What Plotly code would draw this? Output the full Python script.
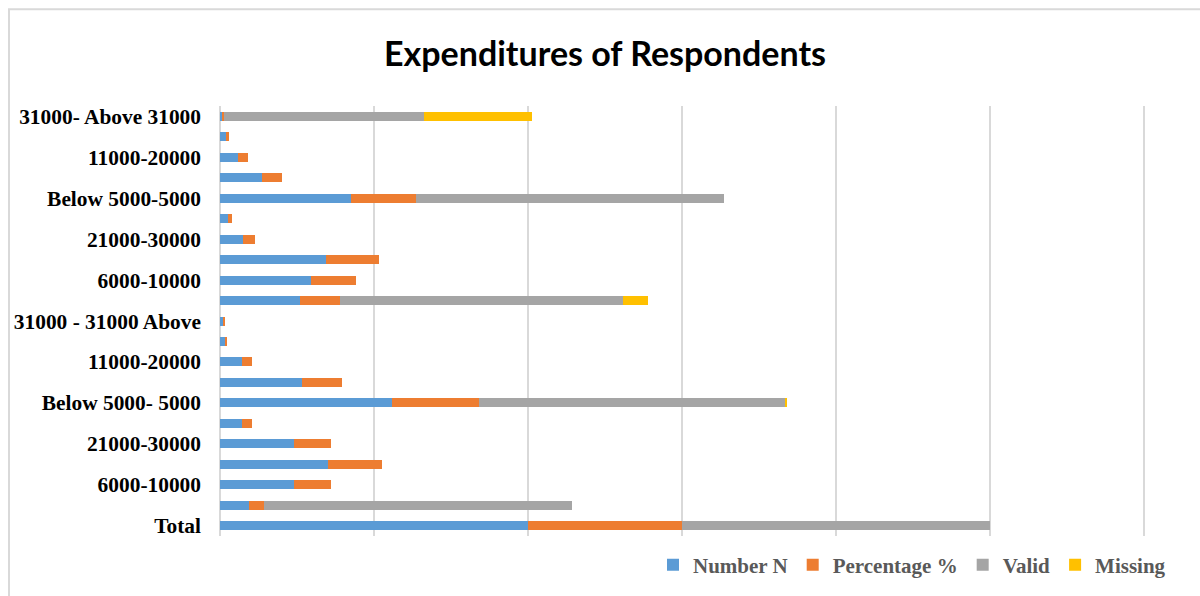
import plotly.graph_objects as go

# Row labels from bottom (Total) to top; only every other row shows its label
categories = [
    "Total", "Expenditure", "6000-10000", "Below 5000", "21000-30000",
    "16000-20000", "Below 5000- 5000", "6000-10000 ", "11000-20000", "21000-30000 ",
    "31000 - 31000 Above", "Monthly Expenditure", "6000-10000", "Below 5000 ",
    "21000-30000", "26000-30000", "Below 5000-5000", "6000-10000  ",
    "11000-20000", "21000-30000  ", "31000- Above 31000",
]
shown_labels = [
    "Total", "", "6000-10000", "", "21000-30000", "", "Below 5000- 5000", "",
    "11000-20000", "", "31000 - 31000 Above", "", "6000-10000", "",
    "21000-30000", "", "Below 5000-5000", "", "11000-20000", "",
    "31000- Above 31000",
]

number_n = [200, 19, 48, 70, 48, 14, 112, 53, 14, 3, 2,
            52, 59, 69, 15, 5, 85, 27, 12, 4, 1.5]
percentage = [100, 9.5, 24, 35, 24, 7, 56, 26.5, 7, 1.5, 1,
              26, 29.5, 34.5, 7.5, 2.5, 42.5, 13.5, 6, 2, 1]
valid = [200, 200, 0, 0, 0, 0, 199, 0, 0, 0, 0,
         184, 0, 0, 0, 0, 200, 0, 0, 0, 130]
missing = [0, 0, 0, 0, 0, 0, 1, 0, 0, 0, 0,
           16, 0, 0, 0, 0, 0, 0, 0, 0, 70]

series = [
    ("Number N", number_n, "#5B9BD5"),
    ("Percentage %", percentage, "#ED7D31"),
    ("Valid", valid, "#A5A5A5"),
    ("Missing", missing, "#FFC000"),
]

rows = list(range(len(categories)))

fig = go.Figure()
for name, vals, color in series:
    fig.add_trace(go.Bar(
        y=rows, x=vals, name=name, orientation="h",
        marker=dict(color=color, line=dict(width=0)),
        customdata=categories,
        hovertemplate="%{customdata}: %{x}<extra>" + name + "</extra>",
    ))

W, H = 1200, 596
ml, mr, mt, mb = 220, 54, 106, 59
pw, ph = W - ml - mr, H - mt - mb
x_max = pw / 1.54  # keeps the last gridline (600) inside the plot area

def px_x(p):
    return (p - ml) / pw

def px_y(p):
    return (H - mb - p) / ph

fig.update_layout(
    width=W, height=H,
    margin=dict(l=ml, r=mr, t=mt, b=mb, pad=0),
    barmode="stack",
    bargap=0.56,
    paper_bgcolor="white",
    plot_bgcolor="white",
    title=dict(
        text="<b>Expenditures of Respondents</b>",
        x=605 / W, xanchor="center", xref="container",
        y=1 - 54 / H, yanchor="middle", yref="container",
        font=dict(family="Lato", size=34, color="black"),
    ),
    xaxis=dict(
        range=[0, x_max], tick0=0, dtick=100, showticklabels=False,
        showgrid=True, gridcolor="#D9D9D9", gridwidth=1.5,
        zeroline=True, zerolinecolor="#D9D9D9", zerolinewidth=1.5,
        showline=False, fixedrange=True,
    ),
    yaxis=dict(
        range=[-0.5, len(categories) - 0.5],
        tickmode="array", tickvals=rows, ticktext=shown_labels,
        ticks="", ticklabelstandoff=18,
        tickfont=dict(family="Liberation Serif", size=21.4, color="black", weight="bold"),
        showgrid=False, zeroline=False, showline=False,
    ),
    legend=dict(
        orientation="h",
        x=px_x(1171), xanchor="right",
        y=px_y(565), yanchor="middle",
        font=dict(family="Liberation Serif", size=21, color="#595959", weight="bold"),
        itemwidth=30, traceorder="normal",
        bgcolor="rgba(0,0,0,0)",
    ),
    showlegend=True,
)

# Chart frame
fig.add_shape(
    type="rect", xref="paper", yref="paper",
    x0=px_x(9), x1=px_x(1210), y0=px_y(610), y1=px_y(9),
    line=dict(color="#D9D9D9", width=2), fillcolor="rgba(0,0,0,0)", layer="below",
)

fig.write_html("out.html")
